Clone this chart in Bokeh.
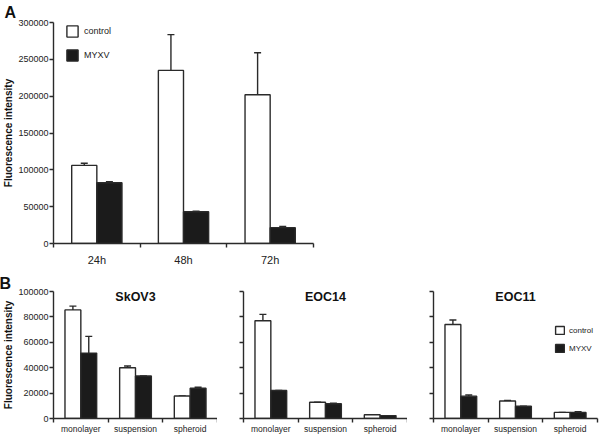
from bokeh.plotting import figure
from bokeh.layouts import column, row
from bokeh.models import (ColumnDataSource, FixedTicker, NumeralTickFormatter, Whisker,
                          TeeHead, Legend, LegendItem, Label, Range1d)
from bokeh.transform import dodge
from bokeh.embed import file_html
from bokeh.resources import INLINE

# ---------------- data ----------------
# Panel A
times = ["24h", "48h", "72h"]
a_control = [106000, 235000, 202000]
a_control_err = [3000, 48500, 57000]
a_myxv = [82500, 43000, 21500]
a_myxv_err = [1500, 1000, 1800]
a_yticks = [0, 50000, 100000, 150000, 200000, 250000, 300000]

# Panel B
conditions = ["monolayer", "suspension", "spheroid"]
b_yticks = [0, 20000, 40000, 60000, 80000, 100000]

skov3_control = [85500, 40000, 17700]
skov3_control_err = [3000, 1300, 0]
skov3_myxv = [51500, 33500, 23800]
skov3_myxv_err = [13200, 0, 800]

eoc14_control = [77000, 12800, 2900]
eoc14_control_err = [5000, 0, 0]
eoc14_myxv = [22000, 11600, 2300]
eoc14_myxv_err = [0, 400, 0]

eoc11_control = [74000, 13800, 4800]
eoc11_control_err = [3600, 400, 0]
eoc11_myxv = [17600, 9600, 4800]
eoc11_myxv_err = [900, 0, 600]

series_names = ["control", "MYXV"]

# ---------------- style ----------------
FONT = "Liberation Sans"
DARK = "#2a2a2a"
BLACK_FILL = "#1b1b1b"
W = 0.29


def add_bars(p, cats, ctrl, ctrl_err, myxv, myxv_err):
    src = ColumnDataSource(dict(
        x=[i + 0.5 for i in range(len(cats))],
        ctrl=ctrl,
        ctrl_top=[v + e for v, e in zip(ctrl, ctrl_err)],
        myxv=myxv,
        myxv_top=[v + e for v, e in zip(myxv, myxv_err)],
    ))
    rc = p.vbar(x=dodge("x", -W / 2), top="ctrl", bottom=0, width=W, source=src,
                fill_color="white", line_color=DARK, line_width=1.4)
    rm = p.vbar(x=dodge("x", W / 2), top="myxv", bottom=0, width=W, source=src,
                fill_color=BLACK_FILL, line_color=DARK, line_width=1.4)
    for col, off in (("ctrl", -W / 2), ("myxv", W / 2)):
        wk = Whisker(base=dodge("x", off), lower=col, upper=col + "_top", source=src,
                     dimension="height", line_color=DARK, line_width=1.4,
                     upper_head=TeeHead(size=7, line_color=DARK, line_width=1.4),
                     lower_head=None)
        p.add_layout(wk)
    return rc, rm


def style(p, cats, yticks, show_ylabels, ylabel, xfont, yfont, xstandoff):
    p.outline_line_color = None
    p.xgrid.visible = False
    p.ygrid.visible = False
    p.background_fill_color = "white"
    p.border_fill_color = "white"
    xa = p.xaxis[0]
    xa.ticker = FixedTicker(ticks=[i + 0.5 for i in range(len(cats))],
                            minor_ticks=list(range(len(cats) + 1)))
    xa.major_label_overrides = {i + 0.5: c for i, c in enumerate(cats)}
    xa.major_tick_in = 0
    xa.major_tick_out = 0
    xa.minor_tick_in = 0
    xa.minor_tick_out = 4
    xa.minor_tick_line_color = DARK
    xa.minor_tick_line_width = 1.4
    xa.axis_line_color = DARK
    xa.axis_line_width = 1.4
    xa.major_label_text_font = FONT
    xa.major_label_text_font_size = xfont
    xa.major_label_text_color = "#222222"
    xa.major_label_standoff = xstandoff

    ya = p.yaxis[0]
    ya.ticker = FixedTicker(ticks=yticks)
    ya.formatter = NumeralTickFormatter(format="0")
    ya.major_tick_in = 0
    ya.major_tick_out = 4
    ya.minor_tick_out = 0
    ya.minor_tick_in = 0
    ya.major_tick_line_color = DARK
    ya.major_tick_line_width = 1.4
    ya.axis_line_color = DARK
    ya.axis_line_width = 1.4
    ya.major_label_text_font = FONT
    ya.major_label_text_color = "#222222"
    ya.major_label_standoff = 1
    ya.major_label_text_font_size = yfont
    if show_ylabels:
        ya.axis_label = ylabel
        ya.axis_label_text_font = FONT
        ya.axis_label_text_font_size = "10px"
        ya.axis_label_text_font_style = "bold"
        ya.axis_label_text_color = "#111111"
        ya.axis_label_standoff = 1
    else:
        ya.major_label_overrides = {t: "" for t in yticks}
        ya.major_label_standoff = 0


def make_legend(p, renderers, loc, glyph_w, glyph_h, spacing, font_size, standoff):
    items = [LegendItem(label=n, renderers=[r]) for n, r in zip(series_names, renderers)]
    lg = Legend(items=items, location=loc, glyph_width=glyph_w, glyph_height=glyph_h,
                spacing=spacing, padding=0, margin=0, label_standoff=standoff,
                label_text_font=FONT, label_text_font_size=font_size,
                label_text_color="#222222", label_height=glyph_h,
                border_line_alpha=0, background_fill_alpha=0)
    p.add_layout(lg, "center")


def panel_letter(p, letter, offset, standoff, valign):
    p.title.text = letter
    p.title.align = "left"
    p.title.vertical_align = valign
    p.title.offset = offset
    p.title.standoff = standoff
    p.title.text_font = FONT
    p.title.text_font_size = "16px"
    p.title.text_font_style = "bold"
    p.title.text_color = "#111111"


# ---------------- panel A ----------------
A_FW, A_FH = 260, 221
pa = figure(frame_width=A_FW, frame_height=A_FH, x_range=Range1d(0, 3),
            y_range=Range1d(0, a_yticks[-1]), output_backend="svg",
            toolbar_location=None, min_border_top=22, min_border_right=10,
            min_border_left=52, min_border_bottom=28)
rc, rm = add_bars(pa, times, a_control, a_control_err, a_myxv, a_myxv_err)
style(pa, times, a_yticks, True, "Fluorescence intensity", "11px", "9px", 6)
make_legend(pa, [rc, rm], (12, A_FH - 2 - 38), 14, 14, 10, "9px", 5)
panel_letter(pa, "A", -49, 0, "top")

# ---------------- panel B ----------------
B_FW, B_FH = 164, 127
b_sets = [
    ("SkOV3", skov3_control, skov3_control_err, skov3_myxv, skov3_myxv_err),
    ("EOC14", eoc14_control, eoc14_control_err, eoc14_myxv, eoc14_myxv_err),
    ("EOC11", eoc11_control, eoc11_control_err, eoc11_myxv, eoc11_myxv_err),
]
b_left_gaps = [52, 26, 26]
b_figs = []
for k, (name, c, ce, m, me) in enumerate(b_sets):
    first = k == 0
    last = k == len(b_sets) - 1
    pb = figure(frame_width=B_FW, frame_height=B_FH, x_range=Range1d(0, 3),
                y_range=Range1d(0, b_yticks[-1]), output_backend="svg",
                toolbar_location=None, min_border_top=20,
                min_border_left=b_left_gaps[k],
                min_border_right=3 if last else 0, min_border_bottom=2)
    rc, rm = add_bars(pb, conditions, c, ce, m, me)
    style(pb, conditions, b_yticks, first, "Fluorescence intensity", "8.5px", "9px", 1)
    pb.add_layout(Label(x=1.5, y=b_yticks[-1], text=name, text_align="center",
                        text_baseline="top", y_offset=2, text_font=FONT,
                        text_font_size="12.5px", text_font_style="bold",
                        text_color="#111111"))
    if first:
        panel_letter(pb, "B", -54, 0, "bottom")
    if last:
        make_legend(pb, [rc, rm], (121, B_FH - 34 - 28), 11, 10, 8, "8px", 4)
    b_figs.append(pb)

layout = column(pa, row(*b_figs))
open("out.html", "w").write(file_html(layout, INLINE))
